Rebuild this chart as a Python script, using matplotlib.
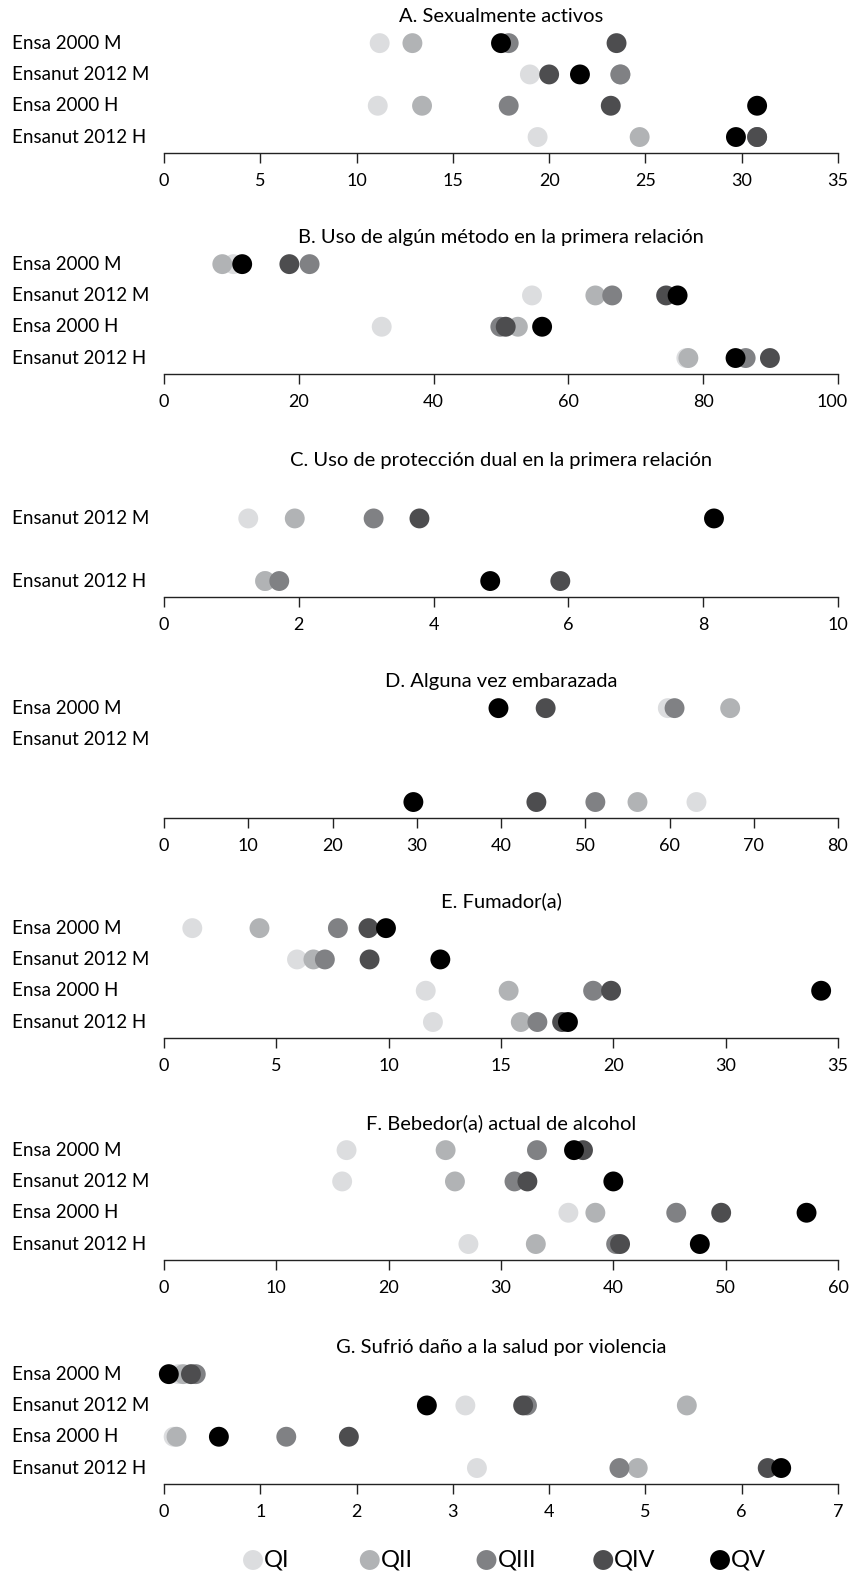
import numpy as np
import matplotlib.pyplot as plt
import matplotlib.transforms as mtransforms

plt.rcParams['font.family'] = ['Lato', 'DejaVu Sans']

quintiles = ['QI', 'QII', 'QIII', 'QIV', 'QV']
colores = ['#dcdddf', '#b1b3b5', '#808184', '#4d4d4f', '#000000']

# valores por fila: QI, QII, QIII, QIV, QV
vals_a = [[11.2, 12.9, 17.9, 23.5, 17.5],
          [19.0, 23.7, 23.7, 20.0, 21.6],
          [11.1, 13.4, 17.9, 23.2, 30.8],
          [19.4, 24.7, 30.8, 30.8, 29.7]]
vals_b = [[10.3, 8.65, 21.6, 18.6, 11.6],
          [54.6, 64.0, 66.5, 74.5, 76.2],
          [32.3, 52.5, 49.9, 50.7, 56.1],
          [77.5, 77.8, 86.3, 89.9, 84.8]]
vals_c = [[np.nan] * 5,
          [1.25, 1.94, 3.11, 3.79, 8.16],
          [np.nan] * 5,
          [1.5, 1.5, 1.71, 5.88, 4.84]]
vals_d = [[59.8, 67.2, 60.6, 45.3, 39.7],
          [np.nan] * 5,
          [np.nan] * 5,
          [63.2, 56.2, 51.2, 44.2, 29.6]]
vals_e = [[1.26, 4.25, 7.74, 9.1, 9.88],
          [5.92, 6.65, 7.16, 9.15, 12.3],
          [11.65, 15.34, 19.1, 19.9, 29.25],
          [11.97, 15.88, 16.62, 17.72, 17.98]]
vals_f = [[16.25, 25.07, 33.2, 37.3, 36.5],
          [15.86, 25.9, 31.2, 32.35, 40.0],
          [36.0, 38.4, 45.6, 49.6, 57.2],
          [27.1, 33.1, 40.25, 40.6, 47.7]]
vals_g = [[0.15, 0.2, 0.33, 0.28, 0.05],
          [3.13, 5.43, 3.77, 3.73, 2.73],
          [0.1, 0.13, 1.27, 1.92, 0.57],
          [3.25, 4.92, 4.73, 6.27, 6.41]]

filas = ['Ensa 2000 M', 'Ensanut 2012 M', 'Ensa 2000 H', 'Ensanut 2012 H']
filas_c = ['', 'Ensanut 2012 M', '', 'Ensanut 2012 H']
filas_d = ['Ensa 2000 M', 'Ensanut 2012 M', '', '']

titulos = ['A. Sexualmente activos',
           'B. Uso de algún método en la primera relación',
           'C. Uso de protección dual en la primera relación',
           'D. Alguna vez embarazada',
           'E. Fumador(a)',
           'F. Bebedor(a) actual de alcohol',
           'G. Sufrió daño a la salud por violencia']

ticks_a = [0, 5, 10, 15, 20, 25, 30, 35]
ticks_b = [0, 20, 40, 60, 80, 100]
ticks_c = [0, 2, 4, 6, 8, 10]
ticks_d = [0, 10, 20, 30, 40, 50, 60, 70, 80]
ticks_e = [0, 5, 10, 15, 20, 25, 30]
etiq_e = ['0', '5', '10', '15', '20', '30', '35']
ticks_f = [0, 10, 20, 30, 40, 50, 60]
ticks_g = [0, 1, 2, 3, 4, 5, 6, 7]

paneles = [(vals_a, filas, ticks_a, None),
           (vals_b, filas, ticks_b, None),
           (vals_c, filas_c, ticks_c, None),
           (vals_d, filas_d, ticks_d, None),
           (vals_e, filas, ticks_e, etiq_e),
           (vals_f, filas, ticks_f, None),
           (vals_g, filas, ticks_g, None)]

W, H = 851, 1573
fig = plt.figure(figsize=(W / 100, H / 100), dpi=100)

ejes_y = [153, 374, 597, 818, 1038, 1260, 1484]
fila_px = 31.3
y_min, y_max = -0.51, 3.5
alto = (y_max - y_min) * fila_px

for (vals, etiq_filas, ticks, etiq), titulo, ypx in zip(paneles, titulos, ejes_y):
    ax = fig.add_axes([164 / W, 1 - ypx / H, 674 / W, alto / H])
    vals = np.array(vals, dtype=float)
    ypos = 3 - np.arange(vals.shape[0])
    for q in range(5):
        ax.scatter(vals[:, q], ypos, s=205, color=colores[q], edgecolors='none',
                   zorder=3 + q, clip_on=False)
    ax.set_xlim(ticks[0], ticks[-1])
    ax.set_ylim(y_min, y_max)
    ax.set_xticks(ticks)
    if etiq is not None:
        ax.set_xticklabels(etiq)
    ax.set_yticks([])
    for s in ['top', 'right', 'left']:
        ax.spines[s].set_visible(False)
    ax.spines['bottom'].set_linewidth(1.0)
    ax.spines['bottom'].set_color('#222222')
    ax.tick_params(axis='x', length=7.5, width=1.0, color='#222222', pad=7,
                   labelsize=13)
    # el "100" no cabe centrado: se corre un poco a la izquierda
    if ticks[-1] >= 100:
        ult = ax.get_xticklabels()[-1]
        ult.set_transform(ult.get_transform() +
                          mtransforms.ScaledTranslation(-6 / 100, 0, fig.dpi_scale_trans))
    ax.patch.set_alpha(0)
    ax.text(0.5, 3 + 27 / fila_px, titulo,
            transform=mtransforms.blended_transform_factory(ax.transAxes, ax.transData),
            ha='center', va='center', fontsize=14.5)
    tr = mtransforms.blended_transform_factory(fig.transFigure, ax.transData)
    for lbl, y in zip(etiq_filas, ypos):
        if lbl:
            ax.text(12 / W, y, lbl, transform=tr, ha='left', va='center', fontsize=13.5)

# leyenda
lx = fig.add_axes([0, 1 - 1571 / H, 1, 22 / H])
lx.axis('off')
paso = 116.75
lx.set_xlim(-253 / paso, (W - 253) / paso)
lx.set_ylim(-1, 1)
for i, (q, c) in enumerate(zip(quintiles, colores)):
    lx.scatter([i], [0], s=205, color=c, edgecolors='none')
    lx.annotate(q, (i, 0), xytext=(8, 0), textcoords='offset points',
                ha='left', va='center', fontsize=17)

fig.savefig('out.png', dpi=100)
